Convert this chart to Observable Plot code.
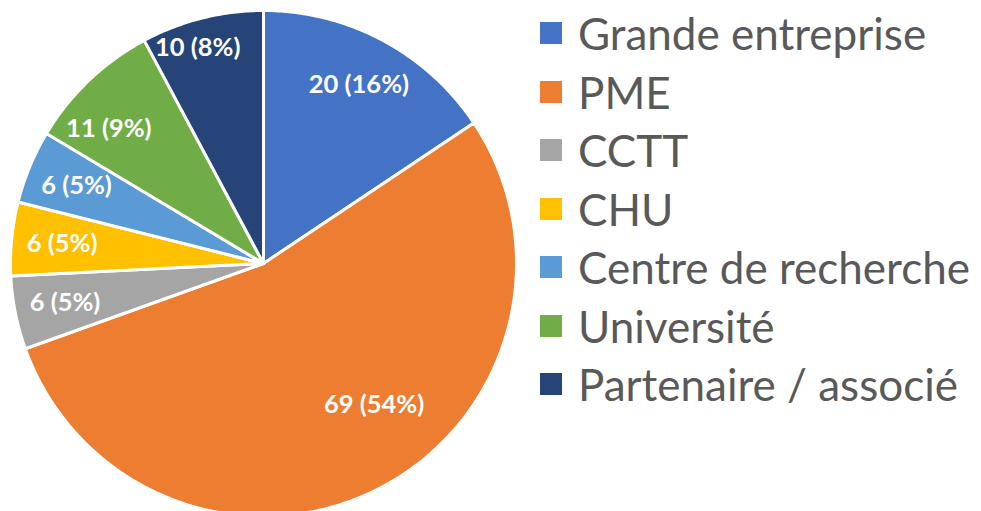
<!DOCTYPE html>
<html>
<head>
<meta charset="utf-8">
<script src="https://cdn.jsdelivr.net/npm/d3@7"></script>
<script src="https://cdn.jsdelivr.net/npm/@observablehq/plot@0.6"></script>
<style>
  html, body { margin: 0; padding: 0; background: #fff; }
  #wrap { position: relative; width: 981px; height: 511px; overflow: hidden; }
  #chart { position: absolute; left: 0; top: 0; }
  #legend { position: absolute; left: 540px; top: 0; font-family: Lato, "Open Sans", sans-serif; color: #595959; }
  .row { position: absolute; left: 0; display: flex; align-items: center; white-space: nowrap; }
  .sw { width: 22px; height: 22px; margin-right: 16px; flex: none; }
  .lab { font-size: 44px; line-height: 1; }
</style>
</head>
<body>
<div id="wrap">
  <div id="chart"></div>
  <div id="legend"></div>
</div>
<script>
// ---- data ----
const categories = ["Grande entreprise", "PME", "CCTT", "CHU", "Centre de recherche", "Université", "Partenaire / associé"];
const values = [20, 69, 6, 6, 6, 11, 10];
const percents = [16, 54, 5, 5, 5, 9, 8];
const colors = ["#4472C4", "#ED7D31", "#A5A5A5", "#FFC000", "#5B9BD5", "#70AD47", "#264478"];

// ---- layout ----
const W = 530, H = 511, CX = 263, CY = 263, R = 253;
// label placement overrides (angle in degrees clockwise from top, radius fraction)
const labelOverride = { "PME": [142, 0.71], "Université": [311, 0.81], "Partenaire / associé": [343, 0.89] };

const pie = d3.pie().sort(null).value(d => d.value)(categories.map((c, i) => ({cat: c, value: values[i], pct: percents[i]})));

// polygon vertices for each slice in unit-circle coordinates
const poly = [];
for (const a of pie) {
  const cat = a.data.cat;
  poly.push({cat, x: 0, y: 0});
  const n = Math.max(4, Math.ceil((a.endAngle - a.startAngle) / 0.01));
  for (let k = 0; k <= n; k++) {
    const t = a.startAngle + (a.endAngle - a.startAngle) * k / n;
    poly.push({cat, x: Math.sin(t), y: Math.cos(t)});
  }
  poly.push({cat, x: 0, y: 0});
}

const labels = pie.map(a => {
  const cat = a.data.cat;
  let ang = (a.startAngle + a.endAngle) / 2, rr = 0.8;
  if (labelOverride[cat]) { ang = labelOverride[cat][0] * Math.PI / 180; rr = labelOverride[cat][1]; }
  return {cat, x: rr * Math.sin(ang), y: rr * Math.cos(ang), text: `${a.data.value} (${a.data.pct}%)`};
});

const chart = Plot.plot({
  width: W, height: H,
  margin: 0,
  x: {domain: [-CX / R, (W - CX) / R], axis: null},
  y: {domain: [(CY - H) / R, CY / R], axis: null},
  color: {domain: categories, range: colors},
  style: {background: "transparent"},
  marks: [
    Plot.line(poly, {x: "x", y: "y", z: "cat", fill: "cat", stroke: "white", strokeWidth: 3, strokeLinejoin: "round", curve: "linear"}),
    Plot.text(labels, {x: "x", y: "y", text: "text", fill: "white", fontSize: 25.5, fontWeight: "bold", fontFamily: "Lato, 'Open Sans', sans-serif"})
  ]
});
document.getElementById("chart").appendChild(chart);

// legend
const rowCenters0 = 33, rowStep = 58.5;
const legend = document.getElementById("legend");
categories.forEach((c, i) => {
  const row = document.createElement("div");
  row.className = "row";
  row.style.top = (rowCenters0 + i * rowStep - 24) + "px";
  row.style.height = "48px";
  const sw = document.createElement("div");
  sw.className = "sw";
  sw.style.background = colors[i];
  const lab = document.createElement("span");
  lab.className = "lab";
  lab.textContent = c;
  row.appendChild(sw); row.appendChild(lab);
  legend.appendChild(row);
});
</script>
</body>
</html>
